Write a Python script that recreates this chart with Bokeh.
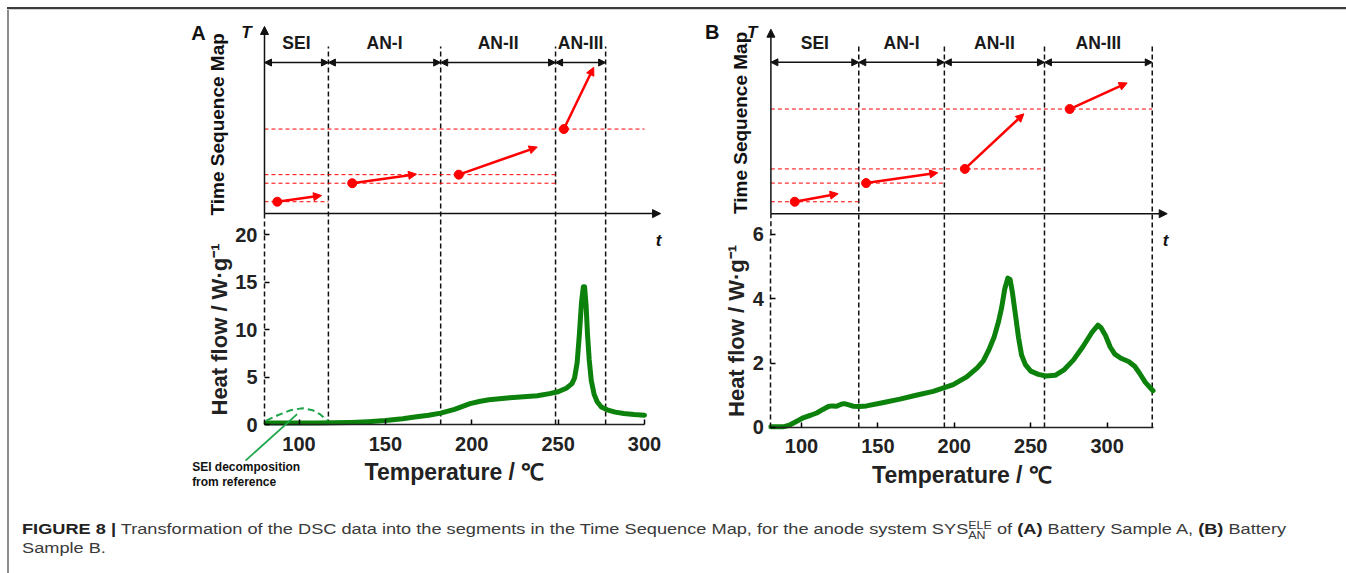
import math
from bokeh.plotting import figure
from bokeh.models import Range1d, FixedTicker, Label, Arrow, NormalHead, Div, ColumnDataSource
from bokeh.layouts import row, column
from bokeh.core.properties import value
from bokeh.embed import file_html
from bokeh.resources import INLINE

FONT = "Liberation Sans"

# ---------------- data ----------------
seg_names = ["SEI", "AN-I", "AN-II", "AN-III"]

# Panel A : DSC curve (Temperature / degC, Heat flow / W g-1)
a_temp = [81, 90, 100, 110, 120, 130, 140, 150, 160, 167, 175, 182, 190, 199, 205, 210,
          216, 222, 230, 238, 245, 250, 255, 258, 259.5, 261, 262.3, 263.5, 264.6, 265.3,
          266.2, 267, 268, 269.2, 270.8, 272.6, 275, 278.4, 283, 288, 294, 300]
a_heat = [0.15, 0.15, 0.15, 0.16, 0.18, 0.22, 0.3, 0.42, 0.6, 0.78, 0.98, 1.2, 1.6, 2.2,
          2.45, 2.6, 2.72, 2.82, 2.92, 3.02, 3.25, 3.45, 3.85, 4.3, 4.9, 6.5, 9.5, 12.8,
          14.5, 14.5, 12.5, 9.5, 6.8, 4.6, 3.2, 2.4, 1.85, 1.55, 1.3, 1.15, 1.05, 0.98]
# Panel A : SEI decomposition from reference (dashed)
a_sei_temp = [81, 88, 95, 102, 108, 112, 116.5]
a_sei_heat = [0.4, 1.0, 1.5, 1.72, 1.5, 1.1, 0.4]
a_bounds = [80, 117, 182, 248.5, 277.5]
a_x_ticks = [100, 150, 200, 250, 300]
a_y_ticks = [0, 5, 10, 15, 20]
# Panel A : Time Sequence Map segments (start point -> arrow tip)
a_start_x = [87.4, 130.8, 192.5, 253.3]
a_start_y = [23.45, 25.4, 26.3, 31.1]
a_end_x = [113.0, 168.0, 237.9, 270.6]
a_end_y = [24.1, 26.35, 29.2, 37.6]
a_level_end = [117, 248.5, 248.5, 300]

# Panel B : DSC curve
b_temp = [80, 88, 92, 96, 101.5, 106, 110, 114, 117.6, 120, 123, 126, 128, 131, 134, 138,
          142.6, 153, 164.4, 175, 186.2, 199.3, 208.1, 215, 219, 222.5, 226, 229, 231, 233,
          235, 236.5, 238, 240, 242, 244, 246.5, 250, 255, 260, 266, 272, 278, 284, 290,
          294, 296, 299, 302, 305, 309, 314, 318, 321, 325, 330]
b_heat = [0.02, 0.02, 0.07, 0.17, 0.31, 0.38, 0.45, 0.56, 0.65, 0.67, 0.66, 0.72, 0.74,
          0.7, 0.66, 0.65, 0.67, 0.77, 0.88, 1.0, 1.12, 1.33, 1.57, 1.85, 2.07, 2.4, 2.8,
          3.3, 3.73, 4.3, 4.64, 4.6, 4.2, 3.5, 2.8, 2.25, 1.95, 1.75, 1.65, 1.6, 1.62, 1.8,
          2.1, 2.5, 2.95, 3.18, 3.1, 2.85, 2.5, 2.28, 2.15, 2.05, 1.9, 1.7, 1.4, 1.14]
b_bounds = [80, 137.5, 193.5, 259, 329.5]
b_x_ticks = [100, 150, 200, 250, 300]
b_y_ticks = [0, 2, 4, 6]
b_start_x = [95.6, 142.3, 206.9, 275.5]
b_start_y = [7.01, 7.59, 8.03, 9.89]
b_end_x = [124.0, 189.2, 245.5, 313.1]
b_end_y = [7.26, 7.91, 9.74, 10.7]
b_level_end = [137.5, 193.5, 259, 329.5]

GREEN = "#0c820c"
LIGHT_GREEN = "#1fa64a"
INK = "#111111"


def dlabel(p, x, y, text, size, style="bold", align="center", angle=0.0):
    p.add_layout(Label(x=x, y=y, text=text,
                       text_font=FONT, text_font_style=style, text_font_size=size,
                       text_align=align, text_baseline="middle", angle=angle,
                       text_color=INK))


def make_panel(letter, temp, heat, bounds, xt, yt, sx, sy, ex, ey, lvl_end, g):
    p = figure(width=g["w"], height=480,
               x_range=Range1d(g["xs"], g["xe"]), y_range=Range1d(g["ys"], g["ye"]),
               output_backend="svg", toolbar_location=None,
               min_border=0)
    p.grid.visible = False
    p.outline_line_color = None
    p.background_fill_color = "white"
    p.border_fill_color = "white"

    # axes, pinned at T = 80 and heat flow = 0
    xa = p.xaxis[0]
    xa.fixed_location = 0
    xa.ticker = FixedTicker(ticks=xt)
    xa.bounds = (80, g["xaxis_end"])
    xa.major_tick_in = 5
    xa.major_tick_out = 0
    xa.minor_tick_line_color = None
    xa.axis_line_width = 1.5
    xa.axis_line_color = "#222222"
    xa.major_tick_line_width = 1.5
    xa.major_label_text_font = FONT
    xa.major_label_text_font_style = "bold"
    xa.major_label_text_font_size = "20px"
    xa.major_label_text_color = "#222222"
    xa.major_label_standoff = 12
    xa.axis_label = "Temperature / ℃"
    xa.axis_label_text_font = FONT
    xa.axis_label_text_font_style = "bold"
    xa.axis_label_text_font_size = "23px"
    xa.axis_label_text_color = "#222222"
    xa.axis_label_standoff = 5

    ya = p.yaxis[0]
    ya.fixed_location = 80
    ya.ticker = FixedTicker(ticks=yt)
    ya.bounds = (0, yt[-1])
    ya.major_tick_in = 5
    ya.major_tick_out = 0
    ya.minor_tick_line_color = None
    ya.axis_line_width = 1.5
    ya.axis_line_dash = "5 3"
    ya.axis_line_color = INK
    ya.major_tick_line_width = 1.5
    ya.major_label_text_font = FONT
    ya.major_label_text_font_style = "bold"
    ya.major_label_text_font_size = "20px"
    ya.major_label_text_color = "#222222"
    ya.major_label_standoff = 7
    ya.axis_label = "Heat flow / W·g⁻¹"
    ya.axis_label_text_font = FONT
    ya.axis_label_text_font_style = "bold"
    ya.axis_label_text_font_size = "22px"
    ya.axis_label_text_color = "#222222"
    ya.axis_label_standoff = 0

    # dashed continuation of the left boundary up to the map's t axis
    p.segment(x0=[80], y0=[yt[-1]], x1=[80], y1=[g["base"]],
              line_color=INK, line_width=1.5, line_dash="5 3")

    # segment boundaries
    bx = bounds[1:]
    p.segment(x0=bx, y0=[0] * len(bx), x1=bx, y1=[g["dash_top"]] * len(bx),
              line_color=INK, line_width=1.5, line_dash="5 3")

    # level lines of the map
    p.segment(x0=[80] * len(sy), y0=sy, x1=lvl_end, y1=sy,
              line_color="red", line_width=1, line_dash="4 3")

    # map axes (T up, t right)
    head = dict(size=8, fill_color=INK, line_color=INK)
    p.add_layout(Arrow(x_start=80, y_start=g["base"], x_end=80, y_end=g["top"],
                       line_color=INK, line_width=1.5, end=NormalHead(**head)))
    p.add_layout(Arrow(x_start=80, y_start=g["base"], x_end=g["t_end"], y_end=g["base"],
                       line_color=INK, line_width=1.5, end=NormalHead(**head)))

    # double-headed brackets for the segments
    bsrc = ColumnDataSource(dict(x0=bounds[:-1], x1=bounds[1:],
                                 y=[g["bracket_y"]] * (len(bounds) - 1)))
    p.add_layout(Arrow(x_start="x0", y_start="y", x_end="x1", y_end="y", source=bsrc,
                       line_color=INK, line_width=1.5,
                       start=NormalHead(size=7, fill_color=INK, line_color=INK),
                       end=NormalHead(size=7, fill_color=INK, line_color=INK)))
    centers = [(bounds[i] + bounds[i + 1]) / 2 for i in range(len(bounds) - 1)]
    p.text(x=centers, y=[g["label_y"]] * len(centers), text=seg_names,
           text_font=value(FONT), text_font_style="bold", text_font_size="17.5px",
           text_align="center", text_baseline="middle", text_color="#1a1a1a")

    # red segment arrows
    asrc = ColumnDataSource(dict(x0=sx, y0=sy, x1=ex, y1=ey))
    p.add_layout(Arrow(x_start="x0", y_start="y0", x_end="x1", y_end="y1", source=asrc,
                       line_color="red", line_width=2.5,
                       end=NormalHead(size=8, fill_color="red", line_color="red")))
    p.scatter(sx, sy, size=9, color="red")

    # DSC curve
    p.line(temp, heat, line_color=GREEN, line_width=5, line_join="round", line_cap="round")

    # text labels
    dlabel(p, g["letter_x"], g["top_y"], letter, "20px")
    dlabel(p, g["T_x"], g["top_y"], "T", "17px", style="bold italic")
    dlabel(p, g["tt_x"], g["tt_y"], "t", "17px", style="bold italic")
    dlabel(p, g["tsm_x"], g["tsm_y"], "Time Sequence Map", "19px", angle=math.pi / 2)
    return p


gA = dict(w=681, xs=-67.63, xe=326.63, ys=-6.947, ye=43.58, xaxis_end=300,
          base=22.2, top=41.9, t_end=309.3, bracket_y=38.1, label_y=40.2, dash_top=39.8,
          letter_x=41.8, top_y=41.26, T_x=69.6, tt_x=308.1, tt_y=19.4, tsm_x=52.6, tsm_y=31.6)
gB = dict(w=656, xs=27.4, xe=456.6, ys=-1.957, ye=12.95, xaxis_end=330,
          base=6.64, top=12.37, t_end=339.3, bracket_y=11.34, label_y=11.93, dash_top=11.86,
          letter_x=41.6, top_y=12.27, T_x=67.8, tt_x=338.2, tt_y=5.81, tsm_x=60.1, tsm_y=9.46)

pA = make_panel("A", a_temp, a_heat, a_bounds, a_x_ticks, a_y_ticks,
                a_start_x, a_start_y, a_end_x, a_end_y, a_level_end, gA)
pB = make_panel("B", b_temp, b_heat, b_bounds, b_x_ticks, b_y_ticks,
                b_start_x, b_start_y, b_end_x, b_end_y, b_level_end, gB)

# SEI decomposition from reference (panel A)
pA.line(a_sei_temp, a_sei_heat, line_color=LIGHT_GREEN, line_width=2, line_dash="7 4")
pA.add_layout(Arrow(x_start=69, y_start=-3.8, x_end=98.9, y_end=1.1,
                    line_color=LIGHT_GREEN, line_width=1.8, end=None))
dlabel(pA, 38.1, -4.45, "SEI decomposition", "12px", align="left")
dlabel(pA, 38.1, -6.1, "from reference", "12px", align="left")

top_div = Div(width=1346, height=10, margin=0,
              text='<div style="position:absolute;left:7px;top:7px;width:1339px;height:2px;'
                   'background:#3c3c3c"></div><div style="position:absolute;left:7px;top:9px;'
                   'width:1339px;height:1px;background:#d0d0d0"></div>')
left_div = Div(width=9, height=563, margin=0,
               text='<div style="position:absolute;left:7px;top:0px;width:2px;height:563px;'
                    'background:#8c8c8c"></div>')
caption = Div(width=1337, height=83, margin=0,
              text='<div style="font-family:\'Liberation Sans\',Arial,sans-serif;font-size:18.2px;'
                   'line-height:21.5px;color:#3a3a3a;padding:0 0 0 13px;white-space:nowrap;'
                   'position:absolute;left:0;top:31px;transform:scale(1,0.8);'
                   'transform-origin:0 0">'
                   '<b style="color:#222">FIGURE 8 |</b> Transformation of the DSC data into the '
                   'segments in the Time Sequence Map, for the anode system SYS'
                   '<span style="display:inline-block;vertical-align:-6px;font-size:12.5px;'
                   'line-height:12px;text-align:left"><span style="display:block">ELE</span>'
                   '<span style="display:block">AN</span></span> of <b style="color:#222">(A)</b> '
                   'Battery Sample A, <b style="color:#222">(B)</b> Battery<br>Sample B.</div>')

layout = column(top_div, row(left_div, column(row(pA, pB), caption)))

open("out.html", "w").write(file_html(layout, INLINE))
